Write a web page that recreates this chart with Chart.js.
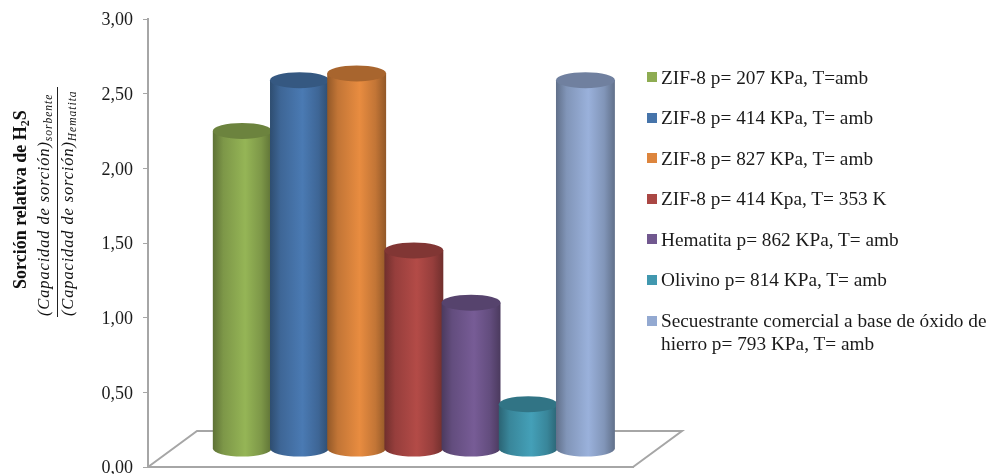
<!DOCTYPE html>
<html>
<head>
<meta charset="utf-8">
<title>Sorción relativa de H2S</title>
<script src="https://cdn.jsdelivr.net/npm/chart.js@4"></script>
<style>
    html, body { margin: 0; padding: 0; background: #fff; }
    #wrap { position: relative; width: 987px; height: 474px; overflow: hidden; }
    #legend {
        position: absolute; left: 647px; top: 65.5px; width: 340px;
        font: 19.3px/23px "Liberation Serif", serif; color: #1a1a1a;
    }
    #legend div { position: relative; padding-left: 14px; margin-bottom: 17.6px; }
    #legend i { position: absolute; left: 0; top: 6.5px; width: 10px; height: 10px; }
</style>
</head>
<body>
<div id="wrap">
    <canvas id="barChart" width="987" height="474"></canvas>
    <div id="legend"></div>
</div>
<script>
const series = [
    'ZIF-8 p= 207 KPa, T=amb',
    'ZIF-8 p= 414 KPa, T= amb',
    'ZIF-8 p= 827 KPa, T= amb',
    'ZIF-8 p= 414 Kpa, T= 353 K',
    'Hematita p= 862 KPa, T= amb',
    'Olivino p= 814 KPa, T= amb',
    'Secuestrante comercial a base de óxido de hierro p= 793 KPa, T= amb'
];
const sorcion = [2.13, 2.47, 2.515, 1.33, 0.98, 0.30, 2.47];
const colores = ['#8eac52', '#4674aa', '#dd853d', '#aa4744', '#71588f', '#4198af', '#93a9d1'];

const serif = '"Liberation Serif", serif';
const gris = '#a6a6a6';

// floor depth of the 3D box, the bars stand halfway into it
const fondoX = 49;
const fondoY = 36;
const radioY = 8;

function tono(hex, f) {
    const n = parseInt(hex.slice(1), 16);
    const c = [n >> 16, (n >> 8) & 255, n & 255].map(v => Math.min(255, Math.round(v * f)));
    return `rgb(${c[0]}, ${c[1]}, ${c[2]})`;
}

const cilindros = {
    id: 'cilindros',
    beforeDatasetDraw(chart, args) {
        const ctx = chart.ctx;
        const dx = fondoX / 2, dy = -fondoY / 2;
        args.meta.data.forEach((bar, i) => {
            const { x, y, base, width } = bar.getProps(['x', 'y', 'base', 'width']);
            const cx = x + dx, top = y + dy, bottom = base + dy, rx = width / 2;
            const color = colores[i];

            const grad = ctx.createLinearGradient(cx - rx, 0, cx + rx, 0);
            grad.addColorStop(0, tono(color, 0.66));
            grad.addColorStop(0.18, tono(color, 0.88));
            grad.addColorStop(0.55, tono(color, 1.05));
            grad.addColorStop(0.82, tono(color, 0.88));
            grad.addColorStop(1, tono(color, 0.66));

            ctx.beginPath();
            ctx.moveTo(cx - rx, top);
            ctx.lineTo(cx - rx, bottom);
            ctx.ellipse(cx, bottom, rx, radioY, 0, Math.PI, 0, true);
            ctx.lineTo(cx + rx, top);
            ctx.closePath();
            ctx.fillStyle = grad;
            ctx.fill();

            ctx.beginPath();
            ctx.ellipse(cx, top, rx, radioY, 0, 0, Math.PI * 2);
            ctx.fillStyle = tono(color, 0.76);
            ctx.fill();
        });
        return false;
    }
};

// back and right edges of the floor, the front one is the x axis border
const piso = {
    id: 'piso',
    beforeDatasetsDraw(chart) {
        const { ctx, chartArea: a } = chart;
        ctx.save();
        ctx.strokeStyle = gris;
        ctx.lineWidth = 2;
        ctx.beginPath();
        ctx.moveTo(a.left, a.bottom);
        ctx.lineTo(a.left + fondoX, a.bottom - fondoY);
        ctx.lineTo(a.right + fondoX, a.bottom - fondoY);
        ctx.lineTo(a.right, a.bottom);
        ctx.stroke();
        ctx.restore();
    }
};

function tramos(ctx, partes) {
    let pos = 0;
    partes.forEach(p => {
        ctx.font = p.font;
        ctx.letterSpacing = p.esp || '0px';
        ctx.fillText(p.txt, pos, p.baja || 0);
        pos += ctx.measureText(p.txt).width;
    });
}

// y axis title: bold line plus the fraction, rotated by hand because of the mixed fonts
const tituloY = {
    id: 'tituloY',
    afterDraw(chart) {
        const ctx = chart.ctx;
        ctx.save();
        ctx.rotate(-Math.PI / 2);
        ctx.fillStyle = '#111';
        ctx.textBaseline = 'alphabetic';
        const linea = (baseX, inicioY, partes) => {
            ctx.save();
            ctx.translate(-inicioY, baseX);
            tramos(ctx, partes);
            ctx.restore();
        };
        const negrita = `bold 18px ${serif}`;
        linea(26, 289, [
            { txt: 'Sorción relativa de H', font: negrita },
            { txt: '2', font: `bold 12px ${serif}`, baja: 3 },
            { txt: 'S', font: negrita }
        ]);
        const cursiva = `italic 16.5px ${serif}`;
        const sub = `italic 11.5px ${serif}`;
        linea(49, 316, [
            { txt: '(Capacidad de sorción)', font: cursiva, esp: '0.85px' },
            { txt: 'sorbente', font: sub, esp: '1px', baja: 3 }
        ]);
        linea(73, 316, [
            { txt: '(Capacidad de sorción)', font: cursiva, esp: '0.85px' },
            { txt: 'Hematita', font: sub, esp: '1px', baja: 3 }
        ]);
        ctx.restore();
        ctx.strokeStyle = '#222';
        ctx.lineWidth = 1;
        ctx.beginPath();
        ctx.moveTo(57.5, 317);
        ctx.lineTo(57.5, 87);
        ctx.stroke();
    }
};

const legend = document.getElementById('legend');
series.forEach((nombre, i) => {
    const fila = document.createElement('div');
    const caja = document.createElement('i');
    caja.style.background = colores[i];
    fila.appendChild(caja);
    fila.appendChild(document.createTextNode(nombre));
    legend.appendChild(fila);
});

let barChart = new Chart(document.getElementById('barChart'), {
    type: 'bar',
    data: {
        datasets: [
            {
                label: 'Sorción relativa de H2S',
                data: sorcion.map((v, i) => ({ x: i + 1, y: v })),
                backgroundColor: colores,
                categoryPercentage: 1,
                barPercentage: 1.03
            }
        ]
    },
    plugins: [piso, cilindros, tituloY],
    options: {
        responsive: false,
        animation: false,
        layout: { padding: { top: 19, bottom: 7, right: 354 } },
        plugins: {
            legend: { display: false },
            tooltip: { enabled: false }
        },
        scales: {
            x: {
                type: 'linear',
                min: -0.22,
                max: 8.26,
                offset: false,
                afterFit: scale => { scale.height = 0; },
                grid: { display: false, drawTicks: false },
                border: { color: gris, width: 2 },
                ticks: { display: false }
            },
            y: {
                min: 0,
                max: 3,
                afterFit: scale => {
                    scale.width = 148;
                    scale.paddingTop = 0;
                    scale.paddingBottom = 0;
                },
                grid: { drawOnChartArea: false, color: gris, tickLength: 5 },
                border: { color: gris, width: 2 },
                ticks: {
                    stepSize: 0.5,
                    padding: 10,
                    labelOffset: 1.5,
                    color: '#1a1a1a',
                    font: { family: serif, size: 18 },
                    callback: v => v.toFixed(2).replace('.', ',')
                }
            }
        }
    }
});
</script>
</body>
</html>
